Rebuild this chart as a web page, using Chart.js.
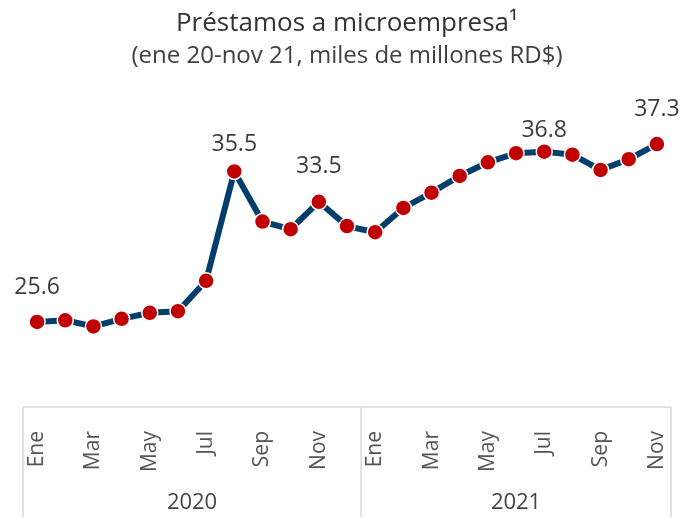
<!DOCTYPE html>
<html>
<head>
<meta charset="utf-8">
<script src="https://cdn.jsdelivr.net/npm/chart.js@4.4.1/dist/chart.umd.min.js"></script>
<style>
  html, body { margin: 0; padding: 0; background: #fff; }
  #wrap { width: 694px; height: 517px; }
</style>
</head>
<body>
<div id="wrap"><canvas id="chart"></canvas></div>
<script>
// ------------------------------------------------------
// DATA
// ------------------------------------------------------
const months = ["Ene","Feb","Mar","Abr","May","Jun","Jul","Ago","Sep","Oct","Nov","Dic",
                "Ene","Feb","Mar","Abr","May","Jun","Jul","Ago","Sep","Oct","Nov"];
const years = ["2020", "2021"];
const monthsPerYear = [12, 11];
const loans = [25.6, 25.7, 25.3, 25.8, 26.2, 26.3, 28.3, 35.5, 32.2, 31.7, 33.5, 31.9,
               31.5, 33.1, 34.1, 35.2, 36.1, 36.7, 36.8, 36.6, 35.6, 36.3, 37.3];
const labelIdx = [0, 7, 10, 18, 22];
const labelLift = [34, 27, 35, 21, 35];

const FONT = "'Open Sans', 'Noto Sans', sans-serif";

// ------------------------------------------------------
// PLUGIN — value labels
// ------------------------------------------------------
const valueLabels = {
  id: "valueLabels",
  afterDatasetsDraw(chart) {
    const meta = chart.getDatasetMeta(0);
    const ctx = chart.ctx;
    ctx.save();
    ctx.font = "23px " + FONT;
    ctx.fillStyle = "#3c3c3c";
    ctx.textAlign = "center";
    ctx.textBaseline = "middle";
    labelIdx.forEach((i, k) => {
      const p = meta.data[i];
      ctx.fillText(loans[i].toFixed(1), p.x, p.y - labelLift[k]);
    });
    ctx.restore();
  }
};

// ------------------------------------------------------
// PLUGIN — year groups box under the x axis
// ------------------------------------------------------
const yearGroups = {
  id: "yearGroups",
  afterDraw(chart) {
    const x = chart.scales.x;
    const ctx = chart.ctx;
    const top = x.top;
    const bottom = chart.height;
    const edges = [x.left];
    let start = 0;
    monthsPerYear.forEach((n, k) => {
      const last = start + n - 1;
      const right = k === monthsPerYear.length - 1
        ? x.right
        : (x.getPixelForValue(last) + x.getPixelForValue(last + 1)) / 2;
      edges.push(right);
      start += n;
    });

    ctx.save();
    ctx.strokeStyle = "#d9d9d9";
    ctx.lineWidth = 1.5;
    ctx.beginPath();
    ctx.moveTo(x.left, top);
    ctx.lineTo(x.right, top);
    edges.forEach(e => {
      ctx.moveTo(e, top);
      ctx.lineTo(e, bottom);
    });
    ctx.stroke();

    ctx.font = "22px " + FONT;
    ctx.fillStyle = "#444";
    ctx.textAlign = "center";
    ctx.textBaseline = "middle";
    years.forEach((y, k) => {
      ctx.fillText(y, (edges[k] + edges[k + 1]) / 2, 503);
    });
    ctx.restore();
  }
};

// ------------------------------------------------------
// CHART
// ------------------------------------------------------
new Chart(document.getElementById("chart"), {
  type: "line",
  data: {
    labels: months,
    datasets: [{
      data: loans,
      borderColor: "#023e6c",
      borderWidth: 6,
      tension: 0,
      pointRadius: 8,
      pointBackgroundColor: "#c00000",
      pointBorderColor: "#fff",
      pointBorderWidth: 1.5
    }]
  },
  options: {
    responsive: true,
    maintainAspectRatio: false,
    animation: false,
    layout: { padding: { left: 23, right: 23, top: 0, bottom: 0 } },
    scales: {
      x: {
        offset: true,
        grid: { display: false },
        border: { display: false },
        afterFit: s => {
          s.height = 110;
          s.paddingLeft = 0;
          s.paddingRight = 0;
        },
        ticks: {
          autoSkip: false,
          maxRotation: 90,
          minRotation: 90,
          padding: 16,
          color: "#555",
          font: { family: FONT, size: 21 },
          callback: (v, i) => (i % 2 === 0 ? months[i] : "")
        }
      },
      y: {
        display: false,
        min: 20,
        max: 40
      }
    },
    plugins: {
      legend: { display: false },
      tooltip: { enabled: false },
      title: {
        display: true,
        text: "Préstamos a microempresa¹",
        color: "#333",
        font: { family: FONT, size: 26, weight: "500" },
        padding: { top: 8, bottom: 3 }
      },
      subtitle: {
        display: true,
        text: "(ene 20-nov 21, miles de millones RD$)",
        color: "#404040",
        font: { family: FONT, size: 24, weight: "normal" },
        padding: { top: 0, bottom: 32 }
      }
    }
  },
  plugins: [valueLabels, yearGroups]
});
</script>
</body>
</html>
